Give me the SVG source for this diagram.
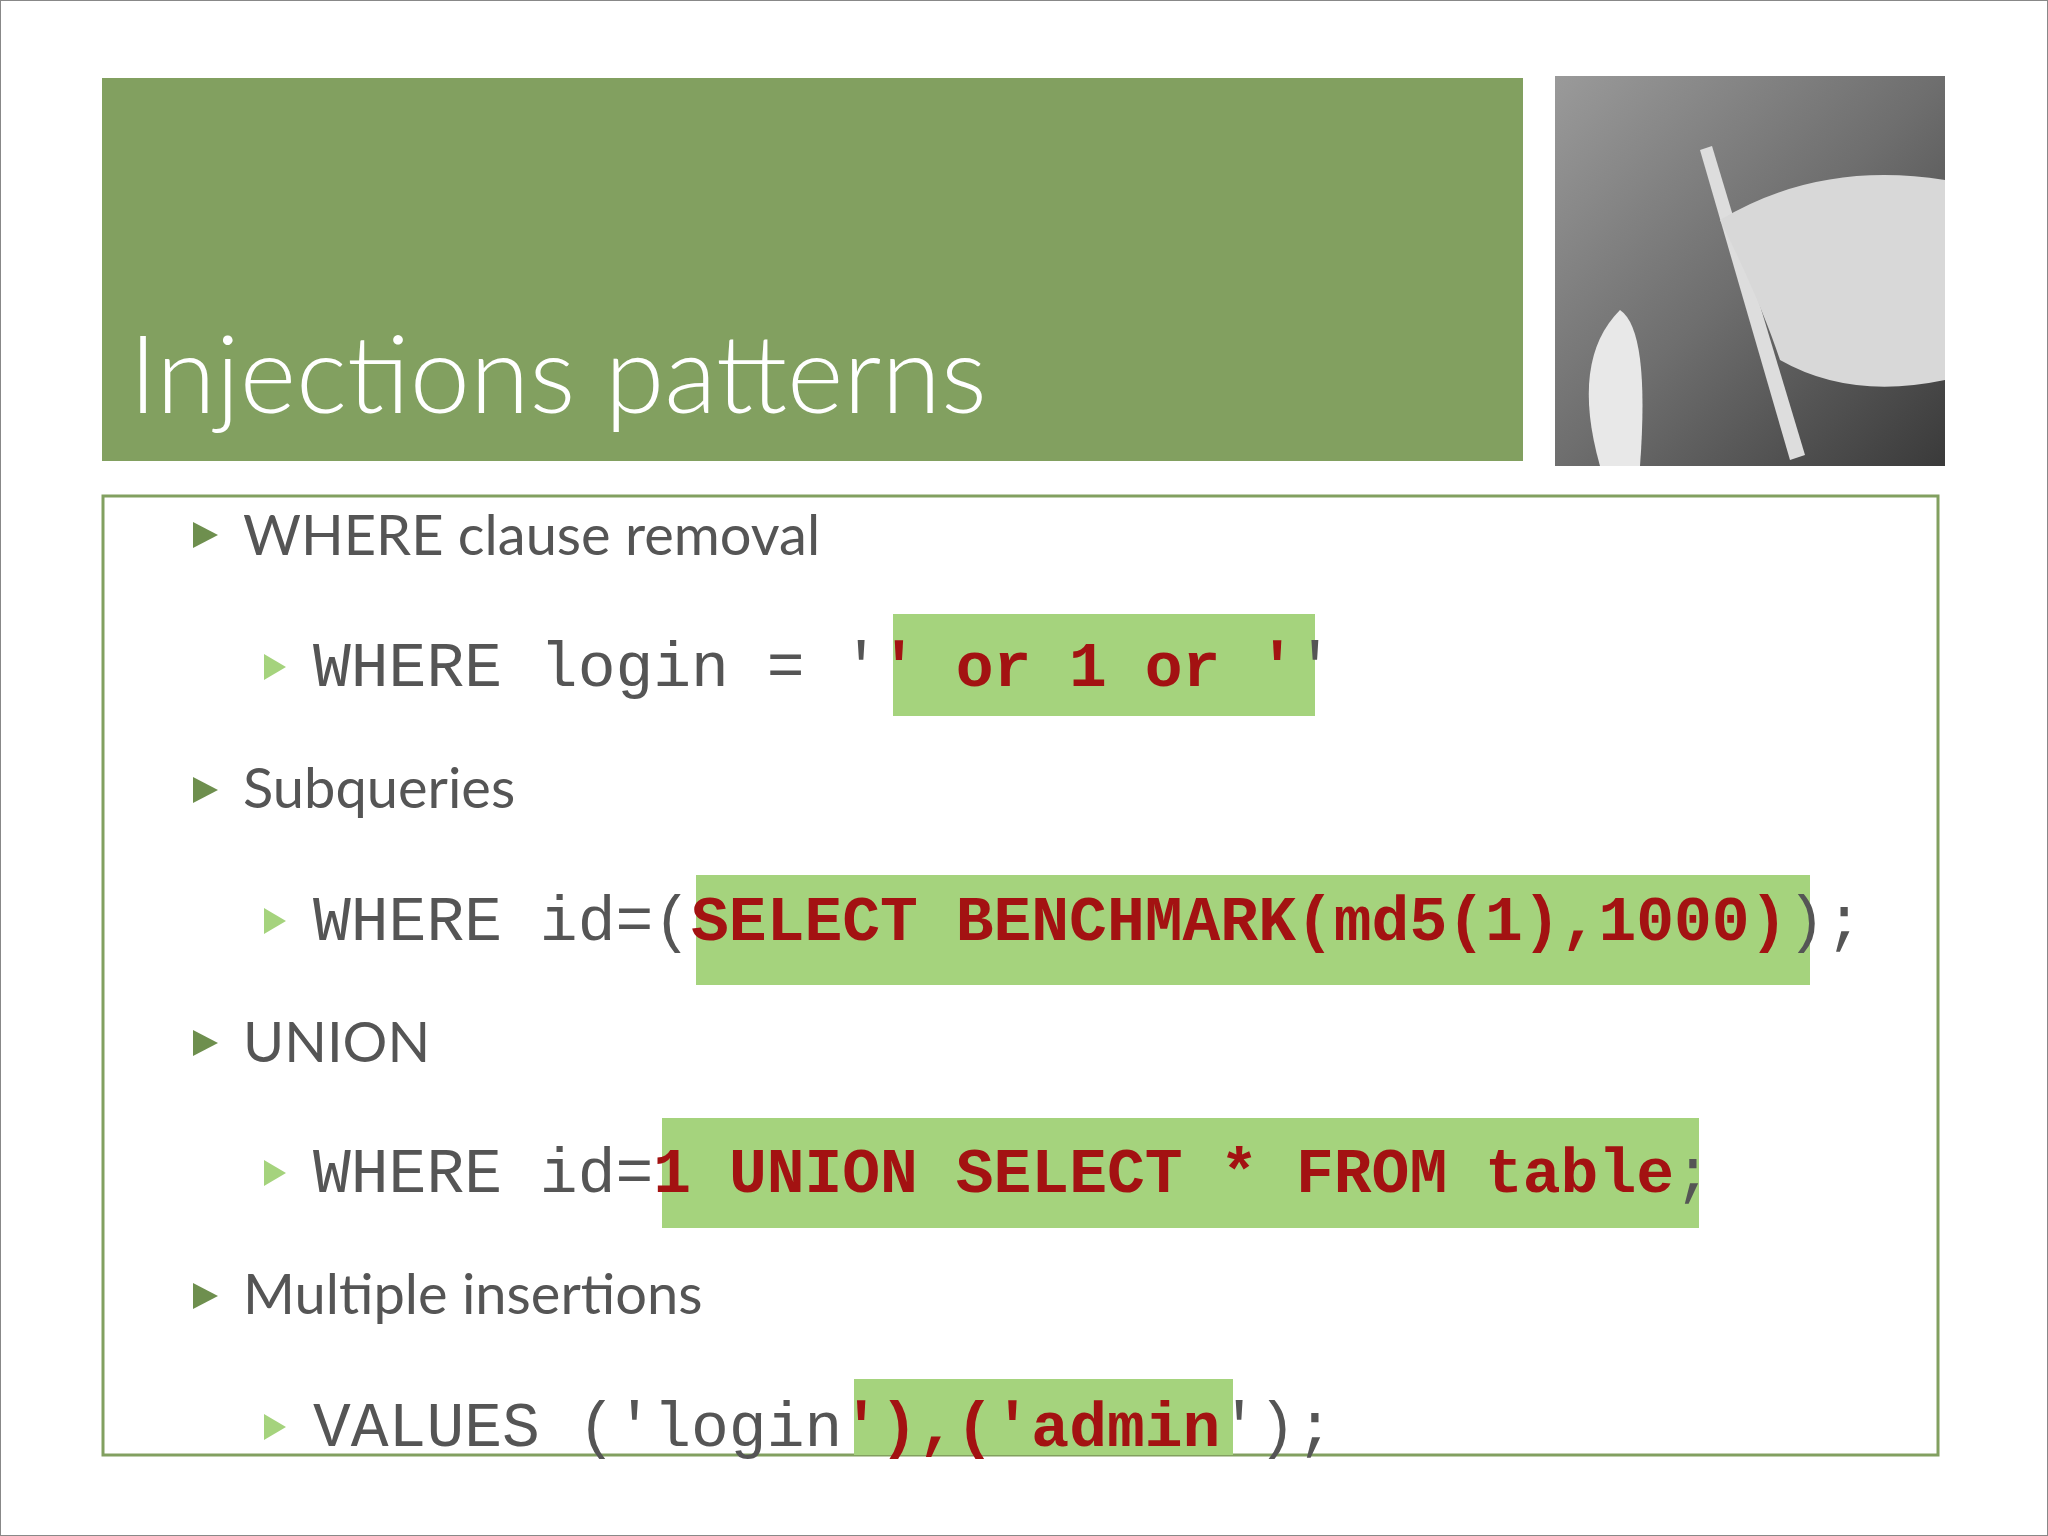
<svg xmlns="http://www.w3.org/2000/svg" width="2048" height="1536" viewBox="0 0 2048 1536">
<defs>
<style>
.h1{font-family:Lato,"Open Sans",sans-serif;font-size:56px;fill:#555}
.code{font-family:"Liberation Mono",monospace;font-size:63px;fill:#555}
.inj{font-weight:bold;fill:#A31212}
.hl{fill:#A5D37D}
</style>
<linearGradient id="ph" x1="0" y1="0" x2="1" y2="1">
<stop offset="0" stop-color="#9a9a9a"/><stop offset="0.5" stop-color="#6e6e6e"/><stop offset="1" stop-color="#3a3a3a"/>
</linearGradient>
</defs>
<rect x="0" y="0" width="2048" height="1536" fill="#fff" stroke="#888" stroke-width="2"/>
<g id="title">
<rect x="102" y="78" width="1421" height="383" fill="#82A060"/>
<text x="129" y="413" font-family="Lato,'Open Sans',sans-serif" font-weight="300" font-size="108" fill="#fff">Injections patterns</text>
</g>
<g id="photo">
<rect x="1555" y="76" width="390" height="390" fill="url(#ph)"/>
<path d="M1790 460 L1700 150 L1712 146 L1805 455 Z" fill="#ddd"/>
<path d="M1600 466 Q1570 360 1620 310 Q1650 330 1640 466 Z" fill="#e8e8e8"/>
<path d="M1720 220 Q1820 160 1945 180 L1945 380 Q1850 400 1780 360 Q1760 300 1720 220 Z" fill="#d8d8d8"/>
</g>
<rect x="103" y="496" width="1835" height="959" fill="none" stroke="#82A060" stroke-width="3"/>
<g id="highlights">
<rect class="hl" x="893" y="614" width="422" height="102"/>
<rect class="hl" x="696" y="875" width="1114" height="110"/>
<rect class="hl" x="662" y="1118" width="1037" height="110"/>
<rect class="hl" x="854" y="1379" width="379" height="76"/>
</g>
<g id="bullets1" fill="#6E8F4E">
<polygon points="193,522 193,548 218,535"/>
<polygon points="193,777 193,803 218,790"/>
<polygon points="193,1030 193,1056 218,1043"/>
<polygon points="193,1283 193,1309 218,1296"/>
</g>
<g id="bullets2" fill="#A5D37D">
<polygon points="264,654 264,680 286,667"/>
<polygon points="264,908 264,934 286,921"/>
<polygon points="264,1160 264,1186 286,1173"/>
<polygon points="264,1414 264,1440 286,1427"/>
</g>
<g id="level1">
<text class="h1" x="243" y="555">WHERE clause removal</text>
<text class="h1" x="243" y="808">Subqueries</text>
<text class="h1" x="243" y="1062">UNION</text>
<text class="h1" x="243" y="1314">Multiple insertions</text>
</g>
<g id="level2" xml:space="preserve">
<text class="code" x="313" y="686">WHERE login = '<tspan class="inj">' or 1 or '</tspan>'</text>
<text class="code" x="313" y="940">WHERE id=(<tspan class="inj">SELECT BENCHMARK(md5(1),1000)</tspan>);</text>
<text class="code" x="313" y="1192">WHERE id=<tspan class="inj">1 UNION SELECT * FROM table</tspan>;</text>
<text class="code" x="313" y="1446">VALUES ('login<tspan class="inj">'),('admin</tspan>');</text>
</g>
</svg>
